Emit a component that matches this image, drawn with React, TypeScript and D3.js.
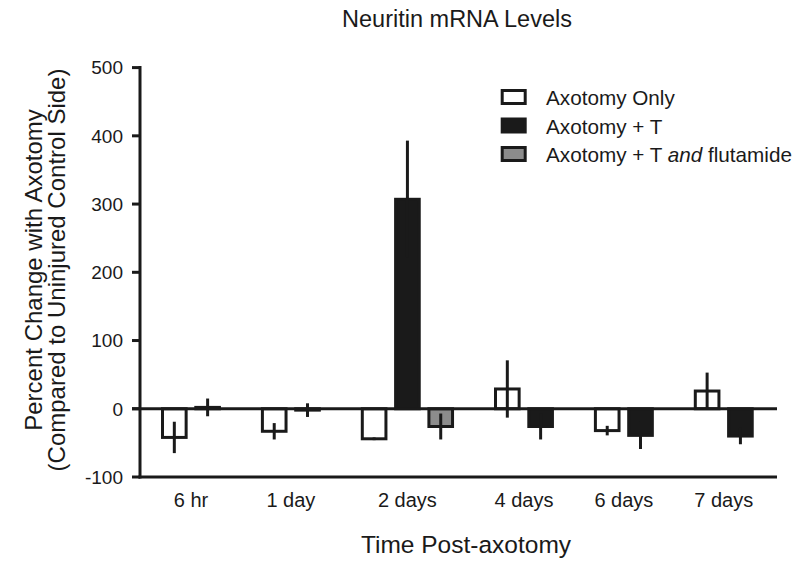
import React from "react";
import * as d3 from "d3";

const categories = ["6 hr", "1 day", "2 days", "4 days", "6 days", "7 days"];
const seriesNames = ["Axotomy Only", "Axotomy + T", "Axotomy + T and flutamide"];
const axotomyOnly: (number | null)[] = [-42, -33, -44, 29, -32, 26];
const axotomyOnlyErr: (number | null)[] = [23, 12, 2, 42, 7, 27];
const axotomyT: (number | null)[] = [2, -2, 307, -26, -39, -40];
const axotomyTErr: (number | null)[] = [13, 10, 86, 19, 20, 12];
const axotomyTFlut: (number | null)[] = [null, null, -26, null, null, null];
const axotomyTFlutErr: (number | null)[] = [null, null, 19, null, null, null];
const yTicks = [-100, 0, 100, 200, 300, 400, 500];

const FILLS = ["#ffffff", "#1a1a1a", "#8c8c8c"];
const INK = "#1a1a1a";
const FONT = "'Liberation Sans', Arial, Helvetica, sans-serif";

export default function App() {
  const W = 800, H = 567;
  const plotLeft = 140, plotRight = 777;
  const y = d3.scaleLinear().domain([-100, 500]).range([477, 67.6]);

  const values = [axotomyOnly, axotomyT, axotomyTFlut];
  const errs = [axotomyOnlyErr, axotomyTErr, axotomyTFlutErr];

  // build slots: bars present per category, with a spacer slot between groups
  type Bar = { key: string; cat: number; s: number; v: number; e: number };
  const bars: Bar[] = [];
  const slots: string[] = [];
  categories.forEach((c, ci) => {
    if (ci > 0) slots.push(`gap-${ci}`);
    values.forEach((arr, si) => {
      const v = arr[ci];
      if (v !== null && v !== undefined) {
        const key = `${c}|${si}`;
        slots.push(key);
        bars.push({ key, cat: ci, s: si, v, e: (errs[si][ci] as number) ?? 0 });
      }
    });
  });
  const step = 33.3;
  const x = d3
    .scaleBand<string>()
    .domain(slots)
    .range([161, 161 + (slots.length - 0.2) * step])
    .paddingInner(0.2)
    .paddingOuter(0);
  const bw = x.bandwidth();
  const sw = 3;

  const labelX = categories.map((c, ci) => {
    const bs = bars.filter((b) => b.cat === ci);
    return d3.mean(bs, (b) => (x(b.key) as number) + bw / 2) as number;
  });

  const legendY = [97, 125.5, 154];

  return (
    <svg
      width={W}
      height={H}
      style={{ position: "absolute", left: 0, top: 0, background: "#fff" }}
      fontFamily={FONT}
    >
      <rect x={0} y={0} width={W} height={H} fill="#fff" />
      {/* title */}
      <text x={457} y={27} textAnchor="middle" fontSize={23.5} fill={INK}>
        Neuritin mRNA Levels
      </text>

      {/* bars */}
      {bars.map((b) => {
        const x0 = (x(b.key) as number) + sw / 2;
        const w = bw - sw;
        const y0 = Math.min(y(0), y(b.v));
        const h = Math.abs(y(b.v) - y(0));
        return (
          <rect
            key={b.key}
            x={x0}
            y={y0}
            width={w}
            height={Math.max(h, 0.5)}
            fill={FILLS[b.s]}
            stroke={INK}
            strokeWidth={sw}
          />
        );
      })}
      {/* error bars */}
      {bars.map((b) => {
        const cx = (x(b.key) as number) + bw / 2;
        return (
          <line
            key={"e" + b.key}
            x1={cx}
            x2={cx}
            y1={y(b.v - b.e)}
            y2={y(b.v + b.e)}
            stroke={INK}
            strokeWidth={3}
          />
        );
      })}

      {/* zero line */}
      <line x1={132} x2={plotRight} y1={y(0)} y2={y(0)} stroke={INK} strokeWidth={3} />
      {/* bottom axis */}
      <line x1={plotLeft - 1.5} x2={plotRight} y1={y(-100)} y2={y(-100)} stroke={INK} strokeWidth={3} />
      {/* y axis */}
      <line x1={plotLeft} x2={plotLeft} y1={y(500) - 1.5} y2={y(-100) + 1.5} stroke={INK} strokeWidth={3} />
      {yTicks.map((t) => (
        <g key={t}>
          <line x1={132} x2={plotLeft} y1={y(t)} y2={y(t)} stroke={INK} strokeWidth={3} />
          <text x={123} y={y(t)} dy="0.36em" textAnchor="end" fontSize={19} fill={INK}>
            {t}
          </text>
        </g>
      ))}

      {/* x labels */}
      {categories.map((c, ci) => (
        <text key={c} x={labelX[ci]} y={507} textAnchor="middle" fontSize={20} fill={INK}>
          {c}
        </text>
      ))}
      <text x={466} y={553} textAnchor="middle" fontSize={24.5} fill={INK}>
        Time Post-axotomy
      </text>

      {/* y title */}
      <g transform="translate(42,270) rotate(-90)">
        <text x={0} y={0} textAnchor="middle" fontSize={24} fill={INK}>
          Percent Change with Axotomy
        </text>
      </g>
      <g transform="translate(65,270) rotate(-90)">
        <text x={0} y={0} textAnchor="middle" fontSize={24} fill={INK}>
          (Compared to Uninjured Control Side)
        </text>
      </g>

      {/* legend */}
      {seriesNames.map((n, i) => (
        <g key={n}>
          <rect
            x={502.2}
            y={legendY[i] - 6.5}
            width={23}
            height={13}
            fill={FILLS[i]}
            stroke={INK}
            strokeWidth={3}
          />
          <text x={546} y={legendY[i] + 8} fontSize={20.7} fill={INK}>
            {i === 2 ? (
              <>
                Axotomy + T <tspan fontStyle="italic">and</tspan> flutamide
              </>
            ) : (
              n
            )}
          </text>
        </g>
      ))}
    </svg>
  );
}
